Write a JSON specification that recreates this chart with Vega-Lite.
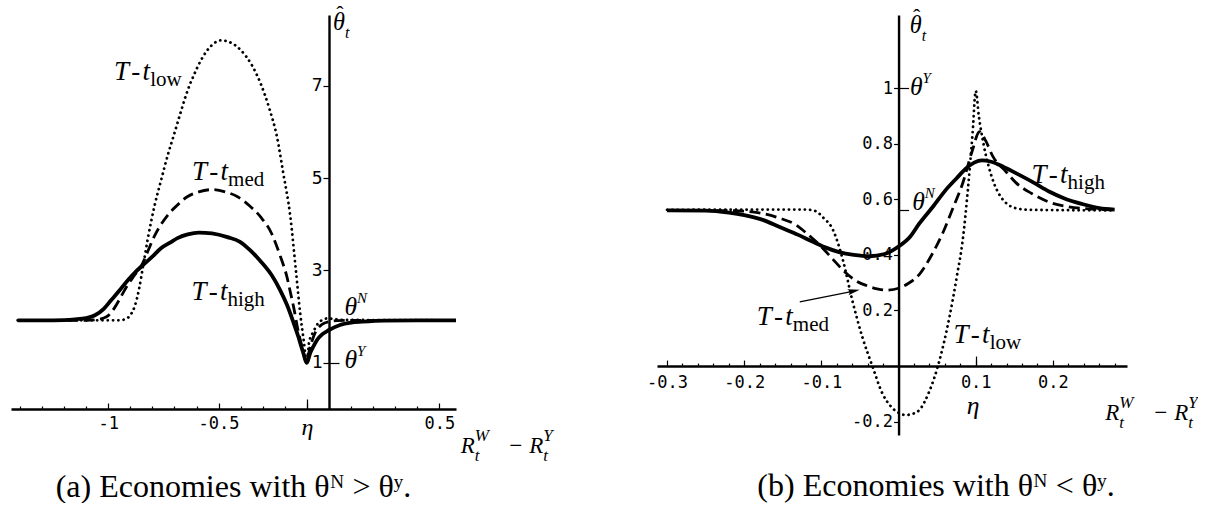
{
  "$schema": "https://vega.github.io/schema/vega-lite/v6.json",
  "padding": {"left": 10, "top": 3, "right": 0, "bottom": 0},
  "background": "white",
  "spacing": 201,
  "bounds": "flush",
  "config": {"view": {"stroke": null}, "axis": {"grid": false, "domainColor": "black", "domainWidth": 2.4, "tickColor": "black", "tickWidth": 1.2, "labelColor": "black", "labelOverlap": false, "labelFlush": false, "labelBound": false}},
  "datasets": {
    "leftCurves": [
      {"s":"high","x":-1.41,"y":1.92},{"s":"high","x":-1.3,"y":1.92},{"s":"high","x":-1.2,"y":1.925},{"s":"high","x":-1.15,"y":1.94},{"s":"high","x":-1.1,"y":1.97},{"s":"high","x":-1.06,"y":2.03},{"s":"high","x":-1.02,"y":2.17},{"s":"high","x":-0.986,"y":2.36},{"s":"high","x":-0.95,"y":2.56},{"s":"high","x":-0.911,"y":2.79},{"s":"high","x":-0.88,"y":2.95},{"s":"high","x":-0.851,"y":3.08},{"s":"high","x":-0.8,"y":3.3},{"s":"high","x":-0.761,"y":3.48},{"s":"high","x":-0.72,"y":3.6},{"s":"high","x":-0.686,"y":3.7},{"s":"high","x":-0.64,"y":3.78},{"s":"high","x":-0.59,"y":3.82},{"s":"high","x":-0.53,"y":3.8},{"s":"high","x":-0.46,"y":3.72},{"s":"high","x":-0.403,"y":3.62},{"s":"high","x":-0.36,"y":3.45},{"s":"high","x":-0.31,"y":3.2},{"s":"high","x":-0.26,"y":2.9},{"s":"high","x":-0.222,"y":2.58},{"s":"high","x":-0.19,"y":2.25},{"s":"high","x":-0.16,"y":1.86},{"s":"high","x":-0.14,"y":1.58},{"s":"high","x":-0.12,"y":1.27},{"s":"high","x":-0.1,"y":1.0},{"s":"high","x":-0.086,"y":1.2},{"s":"high","x":-0.07,"y":1.36},{"s":"high","x":-0.055,"y":1.49},{"s":"high","x":-0.03,"y":1.62},{"s":"high","x":0,"y":1.71},{"s":"high","x":0.05,"y":1.82},{"s":"high","x":0.1,"y":1.87},{"s":"high","x":0.15,"y":1.89},{"s":"high","x":0.25,"y":1.915},{"s":"high","x":0.4,"y":1.92},{"s":"high","x":0.575,"y":1.92},
      {"s":"med","x":-1.41,"y":1.92},{"s":"med","x":-1.1,"y":1.92},{"s":"med","x":-1.05,"y":1.935},{"s":"med","x":-1.02,"y":1.97},{"s":"med","x":-1.0,"y":2.02},{"s":"med","x":-0.97,"y":2.2},{"s":"med","x":-0.94,"y":2.45},{"s":"med","x":-0.91,"y":2.7},{"s":"med","x":-0.88,"y":2.9},{"s":"med","x":-0.85,"y":3.1},{"s":"med","x":-0.82,"y":3.42},{"s":"med","x":-0.79,"y":3.75},{"s":"med","x":-0.76,"y":4.0},{"s":"med","x":-0.73,"y":4.2},{"s":"med","x":-0.69,"y":4.4},{"s":"med","x":-0.64,"y":4.6},{"s":"med","x":-0.59,"y":4.7},{"s":"med","x":-0.53,"y":4.75},{"s":"med","x":-0.47,"y":4.7},{"s":"med","x":-0.416,"y":4.6},{"s":"med","x":-0.36,"y":4.4},{"s":"med","x":-0.31,"y":4.16},{"s":"med","x":-0.26,"y":3.8},{"s":"med","x":-0.22,"y":3.3},{"s":"med","x":-0.19,"y":2.85},{"s":"med","x":-0.176,"y":2.55},{"s":"med","x":-0.16,"y":2.2},{"s":"med","x":-0.14,"y":1.7},{"s":"med","x":-0.12,"y":1.3},{"s":"med","x":-0.1,"y":1.0},{"s":"med","x":-0.09,"y":1.25},{"s":"med","x":-0.075,"y":1.5},{"s":"med","x":-0.06,"y":1.68},{"s":"med","x":-0.04,"y":1.8},{"s":"med","x":-0.02,"y":1.86},{"s":"med","x":0,"y":1.89},{"s":"med","x":0.04,"y":1.915},{"s":"med","x":0.1,"y":1.92},{"s":"med","x":0.575,"y":1.92},
      {"s":"low","x":-1.41,"y":1.92},{"s":"low","x":-0.95,"y":1.92},{"s":"low","x":-0.92,"y":1.95},{"s":"low","x":-0.9,"y":2.03},{"s":"low","x":-0.88,"y":2.22},{"s":"low","x":-0.86,"y":2.6},{"s":"low","x":-0.84,"y":3.15},{"s":"low","x":-0.82,"y":3.7},{"s":"low","x":-0.79,"y":4.4},{"s":"low","x":-0.76,"y":4.96},{"s":"low","x":-0.73,"y":5.5},{"s":"low","x":-0.7,"y":5.97},{"s":"low","x":-0.67,"y":6.45},{"s":"low","x":-0.64,"y":6.9},{"s":"low","x":-0.61,"y":7.25},{"s":"low","x":-0.58,"y":7.55},{"s":"low","x":-0.53,"y":7.88},{"s":"low","x":-0.49,"y":7.98},{"s":"low","x":-0.44,"y":7.92},{"s":"low","x":-0.4,"y":7.77},{"s":"low","x":-0.35,"y":7.45},{"s":"low","x":-0.31,"y":7.05},{"s":"low","x":-0.27,"y":6.5},{"s":"low","x":-0.236,"y":5.9},{"s":"low","x":-0.207,"y":5.1},{"s":"low","x":-0.176,"y":4.2},{"s":"low","x":-0.15,"y":3.0},{"s":"low","x":-0.13,"y":2.05},{"s":"low","x":-0.115,"y":1.5},{"s":"low","x":-0.1,"y":1.0},{"s":"low","x":-0.09,"y":1.45},{"s":"low","x":-0.07,"y":1.68},{"s":"low","x":-0.05,"y":1.85},{"s":"low","x":-0.03,"y":1.93},{"s":"low","x":-0.01,"y":1.96},{"s":"low","x":0.02,"y":1.95},{"s":"low","x":0.06,"y":1.93},{"s":"low","x":0.575,"y":1.92}
    ],
    "rightCurves": [
      {"s":"high","x":-0.3,"y":0.56},{"s":"high","x":-0.25,"y":0.559},{"s":"high","x":-0.22,"y":0.552},{"s":"high","x":-0.2,"y":0.543},{"s":"high","x":-0.175,"y":0.525},{"s":"high","x":-0.154,"y":0.5},{"s":"high","x":-0.13,"y":0.472},{"s":"high","x":-0.111,"y":0.447},{"s":"high","x":-0.095,"y":0.427},{"s":"high","x":-0.077,"y":0.41},{"s":"high","x":-0.058,"y":0.4},{"s":"high","x":-0.038,"y":0.395},{"s":"high","x":-0.018,"y":0.403},{"s":"high","x":0,"y":0.43},{"s":"high","x":0.015,"y":0.465},{"s":"high","x":0.027,"y":0.513},{"s":"high","x":0.045,"y":0.575},{"s":"high","x":0.061,"y":0.633},{"s":"high","x":0.075,"y":0.675},{"s":"high","x":0.087,"y":0.71},{"s":"high","x":0.098,"y":0.732},{"s":"high","x":0.108,"y":0.74},{"s":"high","x":0.12,"y":0.735},{"s":"high","x":0.135,"y":0.718},{"s":"high","x":0.152,"y":0.694},{"s":"high","x":0.175,"y":0.66},{"s":"high","x":0.195,"y":0.628},{"s":"high","x":0.215,"y":0.603},{"s":"high","x":0.238,"y":0.583},{"s":"high","x":0.26,"y":0.568},{"s":"high","x":0.28,"y":0.563},
      {"s":"med","x":-0.3,"y":0.56},{"s":"med","x":-0.22,"y":0.559},{"s":"med","x":-0.19,"y":0.555},{"s":"med","x":-0.176,"y":0.549},{"s":"med","x":-0.155,"y":0.533},{"s":"med","x":-0.133,"y":0.508},{"s":"med","x":-0.118,"y":0.475},{"s":"med","x":-0.102,"y":0.435},{"s":"med","x":-0.087,"y":0.39},{"s":"med","x":-0.072,"y":0.345},{"s":"med","x":-0.057,"y":0.31},{"s":"med","x":-0.042,"y":0.29},{"s":"med","x":-0.028,"y":0.278},{"s":"med","x":-0.016,"y":0.273},{"s":"med","x":0,"y":0.28},{"s":"med","x":0.013,"y":0.298},{"s":"med","x":0.027,"y":0.33},{"s":"med","x":0.042,"y":0.395},{"s":"med","x":0.057,"y":0.477},{"s":"med","x":0.07,"y":0.565},{"s":"med","x":0.083,"y":0.657},{"s":"med","x":0.095,"y":0.77},{"s":"med","x":0.105,"y":0.843},{"s":"med","x":0.113,"y":0.81},{"s":"med","x":0.122,"y":0.755},{"s":"med","x":0.139,"y":0.7},{"s":"med","x":0.152,"y":0.66},{"s":"med","x":0.173,"y":0.62},{"s":"med","x":0.195,"y":0.59},{"s":"med","x":0.22,"y":0.573},{"s":"med","x":0.25,"y":0.565},{"s":"med","x":0.28,"y":0.562},
      {"s":"low","x":-0.3,"y":0.562},{"s":"low","x":-0.12,"y":0.563},{"s":"low","x":-0.108,"y":0.558},{"s":"low","x":-0.098,"y":0.535},{"s":"low","x":-0.085,"y":0.49},{"s":"low","x":-0.072,"y":0.38},{"s":"low","x":-0.06,"y":0.237},{"s":"low","x":-0.047,"y":0.105},{"s":"low","x":-0.034,"y":0.0},{"s":"low","x":-0.021,"y":-0.098},{"s":"low","x":-0.01,"y":-0.145},{"s":"low","x":0.0,"y":-0.168},{"s":"low","x":0.009,"y":-0.176},{"s":"low","x":0.018,"y":-0.172},{"s":"low","x":0.027,"y":-0.158},{"s":"low","x":0.04,"y":-0.09},{"s":"low","x":0.051,"y":0.0},{"s":"low","x":0.066,"y":0.177},{"s":"low","x":0.076,"y":0.33},{"s":"low","x":0.083,"y":0.45},{"s":"low","x":0.09,"y":0.64},{"s":"low","x":0.096,"y":0.84},{"s":"low","x":0.1,"y":0.99},{"s":"low","x":0.104,"y":0.9},{"s":"low","x":0.11,"y":0.8},{"s":"low","x":0.117,"y":0.716},{"s":"low","x":0.124,"y":0.655},{"s":"low","x":0.13,"y":0.62},{"s":"low","x":0.14,"y":0.585},{"s":"low","x":0.152,"y":0.568},{"s":"low","x":0.17,"y":0.562},{"s":"low","x":0.28,"y":0.56}
    ],
    "leftLabels": [
      {"x":-0.81,"y":7.12,"main":"T\u200a-\u200at","sub":"low","sup":"","kind":"curve"},
      {"x":-0.457,"y":4.96,"main":"T\u200a-\u200at","sub":"med","sup":"","kind":"curve"},
      {"x":-0.46,"y":2.36,"main":"T\u200a-\u200at","sub":"high","sup":"","kind":"curve"},
      {"x":0.127,"y":2.03,"main":"θ","sub":"","sup":"N","kind":"theta"},
      {"x":0.127,"y":0.89,"main":"θ","sub":"","sup":"Y","kind":"theta"},
      {"x":0.072,"y":8.2,"main":"θ","sub":"t","sup":"","kind":"thetahat"},
      {"x":0.66,"y":-0.95,"main":"R","sub":"t","sup":"W","kind":"axis"},
      {"x":0.97,"y":-0.95,"main":"− R","sub":"t","sup":"Y","kind":"axis"}
    ],
    "rightLabels": [
      {"x":0.03,"y":1.198,"main":"θ","sub":"t","sup":"","kind":"thetahat"},
      {"x":0.031,"y":0.975,"main":"θ","sub":"","sup":"Y","kind":"theta"},
      {"x":0.034,"y":0.56,"main":"θ","sub":"","sup":"N","kind":"theta"},
      {"x":0.219,"y":0.658,"main":"T\u200a-\u200at","sub":"high","sup":"","kind":"curve"},
      {"x":-0.137,"y":0.147,"main":"T\u200a-\u200at","sub":"med","sup":"","kind":"curve"},
      {"x":0.118,"y":0.083,"main":"T\u200a-\u200at","sub":"low","sup":"","kind":"curve"},
      {"x":0.105,"y":-0.172,"main":"η","sub":"","sup":"","kind":"theta"},
      {"x":0.286,"y":-0.194,"main":"R","sub":"t","sup":"W","kind":"axis"},
      {"x":0.3755,"y":-0.194,"main":"− R","sub":"t","sup":"Y","kind":"axis"}
    ],
    "arrow": [
      {"x1":-0.128,"y1":0.231,"x2":-0.058,"y2":0.27}
    ]
  },
  "hconcat": [
    {
      "width": 445,
      "height": 394,
      "title": {"text": "(a) Economies with θᴺ > θʸ.", "orient": "bottom", "anchor": "middle", "frame": "group", "font": "Liberation Serif", "fontSize": 32, "fontWeight": "normal", "color": "black", "offset": 8},
      "resolve": {"scale": {"size": "independent"}, "axis": {"x": "independent", "y": "independent"}},
      "layer": [
        {
          "data": {"name": "leftCurves"},
          "transform": [{"filter": "datum.s == 'low'"}],
          "mark": {"type": "line", "interpolate": "monotone", "color": "black", "strokeWidth": 2.8, "strokeDash": [0.1, 5.2], "strokeCap": "round"},
          "encoding": {
            "x": {"field": "x", "type": "quantitative", "scale": {"domain": [-1.44, 0.575], "nice": false, "zero": false},
              "axis": {"orient": "bottom", "offset": 0, "title": null,
                "values": [-1, -0.5, -0.1, 0.5],
                "tickSize": -6,
                "labelExpr": "datum.value == -1 ? '-1' : datum.value == -0.5 ? '-0.5' : datum.value == 0.5 ? '0.5' : 'η'",
                "labelFont": {"condition": {"test": "datum.value == -0.1", "value": "Liberation Serif"}, "value": "DejaVu Sans Mono"},
                "labelFontStyle": {"condition": {"test": "datum.value == -0.1", "value": "italic"}, "value": "normal"},
                "labelFontSize": {"condition": {"test": "datum.value == -0.1", "value": 24}, "value": 17},
                "labelPadding": 12
              }},
            "y": {"field": "y", "type": "quantitative", "scale": {"domain": [0, 8.53], "nice": false, "zero": false},
              "axis": {"orient": "left", "offset": -318, "title": null, "values": [1, 3, 5, 7],
                "tickSize": 6, "labelPadding": 1,
                "labelFont": "DejaVu Sans Mono", "labelFontSize": 18}}
          }
        },
        {
          "data": {"name": "leftCurves"},
          "transform": [{"filter": "datum.s == 'med'"}],
          "mark": {"type": "line", "interpolate": "monotone", "color": "black", "strokeWidth": 2.8, "strokeDash": [11, 5.5]},
          "encoding": {
            "x": {"field": "x", "type": "quantitative", "scale": {"domain": [-1.44, 0.575], "nice": false, "zero": false},
              "axis": {"orient": "bottom", "offset": 0, "title": null, "domain": false, "labels": false, "tickSize": -3,
                "values": [-1.4,-1.3,-1.2,-1.1,-0.9,-0.8,-0.7,-0.6,-0.4,-0.3,-0.2,0.1,0.2,0.3,0.4]}},
            "y": {"field": "y", "type": "quantitative", "scale": {"domain": [0, 8.53], "nice": false, "zero": false},
              "axis": {"orient": "left", "offset": -318, "title": null, "domain": false, "labels": false, "tickSize": -10, "values": [1]}}
          }
        },
        {
          "data": {"name": "leftCurves"},
          "transform": [{"filter": "datum.s == 'high'"}],
          "mark": {"type": "line", "interpolate": "monotone", "color": "black", "strokeWidth": 3.8},
          "encoding": {
            "x": {"field": "x", "type": "quantitative", "scale": {"domain": [-1.44, 0.575], "nice": false, "zero": false},
              "axis": {"orient": "bottom", "offset": 0, "title": null, "domain": false, "labels": false, "tickSize": -10, "values": [-0.1]}},
            "y": {"field": "y", "type": "quantitative", "scale": {"domain": [0, 8.53], "nice": false, "zero": false}, "axis": null}
          }
        },
        {
          "data": {"name": "leftLabels"},
          "mark": {"type": "text", "align": "right", "baseline": "alphabetic", "font": "Liberation Serif", "fontStyle": "italic", "color": "black"},
          "encoding": {
            "x": {"field": "x", "type": "quantitative", "scale": {"domain": [-1.44, 0.575], "nice": false, "zero": false}, "axis": null},
            "y": {"field": "y", "type": "quantitative", "scale": {"domain": [0, 8.53], "nice": false, "zero": false}, "axis": null},
            "text": {"field": "main"},
            "size": {"field": "kind", "type": "ordinal", "scale": {"domain": ["curve", "theta", "thetahat", "axis"], "range": [27, 23, 24, 27]}, "legend": null}
          }
        },
        {
          "data": {"name": "leftLabels"},
          "transform": [{"filter": "datum.kind == 'thetahat'"}],
          "mark": {"type": "text", "align": "center", "baseline": "alphabetic", "font": "Liberation Serif", "fontSize": 22, "dx": -5, "dy": -9, "color": "black"},
          "encoding": {
            "x": {"field": "x", "type": "quantitative", "scale": {"domain": [-1.44, 0.575], "nice": false, "zero": false}, "axis": null},
            "y": {"field": "y", "type": "quantitative", "scale": {"domain": [0, 8.53], "nice": false, "zero": false}, "axis": null},
            "text": {"value": "ˆ"}
          }
        },
        {
          "data": {"name": "leftLabels"},
          "transform": [{"filter": "datum.kind == 'curve'"}],
          "mark": {"type": "text", "align": "left", "baseline": "alphabetic", "font": "Liberation Serif", "fontSize": 21, "dy": 6, "color": "black"},
          "encoding": {
            "x": {"field": "x", "type": "quantitative", "scale": {"domain": [-1.44, 0.575], "nice": false, "zero": false}, "axis": null},
            "y": {"field": "y", "type": "quantitative", "scale": {"domain": [0, 8.53], "nice": false, "zero": false}, "axis": null},
            "text": {"field": "sub"}
          }
        },
        {
          "data": {"name": "leftLabels"},
          "transform": [{"filter": "datum.kind != 'curve' && datum.sub != ''"}],
          "mark": {"type": "text", "align": "left", "baseline": "alphabetic", "font": "Liberation Serif", "fontStyle": "italic", "dy": 8, "color": "black"},
          "encoding": {
            "x": {"field": "x", "type": "quantitative", "scale": {"domain": [-1.44, 0.575], "nice": false, "zero": false}, "axis": null},
            "y": {"field": "y", "type": "quantitative", "scale": {"domain": [0, 8.53], "nice": false, "zero": false}, "axis": null},
            "text": {"field": "sub"},
            "size": {"field": "kind", "type": "ordinal", "scale": {"domain": ["thetahat", "axis"], "range": [16, 17]}, "legend": null}
          }
        },
        {
          "data": {"name": "leftLabels"},
          "transform": [{"filter": "datum.sup != ''"}],
          "mark": {"type": "text", "align": "left", "baseline": "alphabetic", "font": "Liberation Serif", "fontStyle": "italic", "dy": -12, "color": "black"},
          "encoding": {
            "x": {"field": "x", "type": "quantitative", "scale": {"domain": [-1.44, 0.575], "nice": false, "zero": false}, "axis": null},
            "y": {"field": "y", "type": "quantitative", "scale": {"domain": [0, 8.53], "nice": false, "zero": false}, "axis": null},
            "text": {"field": "sup"},
            "size": {"field": "kind", "type": "ordinal", "scale": {"domain": ["theta", "axis"], "range": [15, 17]}, "legend": null}
          }
        }
      ]
    },
    {
      "width": 470,
      "height": 420,
      "title": {"text": "(b) Economies with θᴺ < θʸ.", "orient": "bottom", "anchor": "middle", "frame": "group", "font": "Liberation Serif", "fontSize": 32, "fontWeight": "normal", "color": "black", "offset": 36, "dx": 44},
      "resolve": {"scale": {"size": "independent"}, "axis": {"x": "independent", "y": "independent"}},
      "layer": [
        {
          "data": {"name": "rightCurves"},
          "transform": [{"filter": "datum.s == 'low'"}],
          "mark": {"type": "line", "interpolate": "monotone", "color": "black", "strokeWidth": 2.8, "strokeDash": [0.1, 5.2], "strokeCap": "round"},
          "encoding": {
            "x": {"field": "x", "type": "quantitative", "scale": {"domain": [-0.313, 0.296], "nice": false, "zero": false},
              "axis": {"orient": "bottom", "offset": -68.93, "title": null,
                "values": [-0.3, -0.2, -0.1, 0.1, 0.2],
                "tickSize": -6,
                "labelExpr": "toString(datum.value)",
                "labelFont": "DejaVu Sans Mono", "labelFontSize": 17,
                "labelPadding": 14
              }},
            "y": {"field": "y", "type": "quantitative", "scale": {"domain": [-0.248, 1.263], "nice": false, "zero": false},
              "axis": {"orient": "left", "offset": -241.56, "title": null, "values": [-0.2, 0.2, 0.4, 0.6, 0.8, 1],
                "tickSize": 5, "labelPadding": 1,
                "labelExpr": "toString(datum.value)",
                "labelFont": "DejaVu Sans Mono", "labelFontSize": 17}}
          }
        },
        {
          "data": {"name": "rightCurves"},
          "transform": [{"filter": "datum.s == 'med'"}],
          "mark": {"type": "line", "interpolate": "monotone", "color": "black", "strokeWidth": 2.8, "strokeDash": [11, 5.5]},
          "encoding": {
            "x": {"field": "x", "type": "quantitative", "scale": {"domain": [-0.313, 0.296], "nice": false, "zero": false},
              "axis": {"orient": "bottom", "offset": -68.93, "title": null, "domain": false, "labels": false, "tickSize": -3,
                "values": [-0.28,-0.26,-0.24,-0.22,-0.18,-0.16,-0.14,-0.12,-0.08,-0.06,-0.04,-0.02,0.02,0.04,0.06,0.08,0.12,0.14,0.16,0.18,0.22,0.24,0.26,0.28]}},
            "y": {"field": "y", "type": "quantitative", "scale": {"domain": [-0.248, 1.263], "nice": false, "zero": false},
              "axis": {"orient": "left", "offset": -241.56, "title": null, "domain": false, "labels": false, "tickSize": -10, "values": [0.56, 1]}}
          }
        },
        {
          "data": {"name": "rightCurves"},
          "transform": [{"filter": "datum.s == 'high'"}],
          "mark": {"type": "line", "interpolate": "monotone", "color": "black", "strokeWidth": 3.8},
          "encoding": {
            "x": {"field": "x", "type": "quantitative", "scale": {"domain": [-0.313, 0.296], "nice": false, "zero": false},
              "axis": {"orient": "bottom", "offset": -68.93, "title": null, "domain": false, "labels": false, "tickSize": -10, "values": [0.1]}},
            "y": {"field": "y", "type": "quantitative", "scale": {"domain": [-0.248, 1.263], "nice": false, "zero": false}, "axis": null}
          }
        },
        {
          "data": {"name": "arrow"},
          "mark": {"type": "rule", "color": "black", "strokeWidth": 1.3},
          "encoding": {
            "x": {"field": "x1", "type": "quantitative", "scale": {"domain": [-0.313, 0.296], "nice": false, "zero": false}, "axis": null},
            "y": {"field": "y1", "type": "quantitative", "scale": {"domain": [-0.248, 1.263], "nice": false, "zero": false}, "axis": null},
            "x2": {"field": "x2"},
            "y2": {"field": "y2"}
          }
        },
        {
          "data": {"name": "arrow"},
          "mark": {"type": "point", "shape": "M1,0L-1,-0.5L-0.6,0L-1,0.5Z", "filled": true, "color": "black", "opacity": 1, "size": 144, "angle": -11.3},
          "encoding": {
            "x": {"field": "x2", "type": "quantitative", "scale": {"domain": [-0.313, 0.296], "nice": false, "zero": false}, "axis": null},
            "y": {"field": "y2", "type": "quantitative", "scale": {"domain": [-0.248, 1.263], "nice": false, "zero": false}, "axis": null}
          }
        },
        {
          "data": {"name": "rightLabels"},
          "mark": {"type": "text", "align": "right", "baseline": "alphabetic", "font": "Liberation Serif", "fontStyle": "italic", "color": "black"},
          "encoding": {
            "x": {"field": "x", "type": "quantitative", "scale": {"domain": [-0.313, 0.296], "nice": false, "zero": false}, "axis": null},
            "y": {"field": "y", "type": "quantitative", "scale": {"domain": [-0.248, 1.263], "nice": false, "zero": false}, "axis": null},
            "text": {"field": "main"},
            "size": {"field": "kind", "type": "ordinal", "scale": {"domain": ["curve", "theta", "thetahat", "axis"], "range": [27, 23, 24, 27]}, "legend": null}
          }
        },
        {
          "data": {"name": "rightLabels"},
          "transform": [{"filter": "datum.kind == 'thetahat'"}],
          "mark": {"type": "text", "align": "center", "baseline": "alphabetic", "font": "Liberation Serif", "fontSize": 22, "dx": -5, "dy": -9, "color": "black"},
          "encoding": {
            "x": {"field": "x", "type": "quantitative", "scale": {"domain": [-0.313, 0.296], "nice": false, "zero": false}, "axis": null},
            "y": {"field": "y", "type": "quantitative", "scale": {"domain": [-0.248, 1.263], "nice": false, "zero": false}, "axis": null},
            "text": {"value": "ˆ"}
          }
        },
        {
          "data": {"name": "rightLabels"},
          "transform": [{"filter": "datum.kind == 'curve'"}],
          "mark": {"type": "text", "align": "left", "baseline": "alphabetic", "font": "Liberation Serif", "fontSize": 21, "dy": 6, "color": "black"},
          "encoding": {
            "x": {"field": "x", "type": "quantitative", "scale": {"domain": [-0.313, 0.296], "nice": false, "zero": false}, "axis": null},
            "y": {"field": "y", "type": "quantitative", "scale": {"domain": [-0.248, 1.263], "nice": false, "zero": false}, "axis": null},
            "text": {"field": "sub"}
          }
        },
        {
          "data": {"name": "rightLabels"},
          "transform": [{"filter": "datum.kind != 'curve' && datum.sub != ''"}],
          "mark": {"type": "text", "align": "left", "baseline": "alphabetic", "font": "Liberation Serif", "fontStyle": "italic", "dy": 8, "color": "black"},
          "encoding": {
            "x": {"field": "x", "type": "quantitative", "scale": {"domain": [-0.313, 0.296], "nice": false, "zero": false}, "axis": null},
            "y": {"field": "y", "type": "quantitative", "scale": {"domain": [-0.248, 1.263], "nice": false, "zero": false}, "axis": null},
            "text": {"field": "sub"},
            "size": {"field": "kind", "type": "ordinal", "scale": {"domain": ["thetahat", "axis"], "range": [16, 17]}, "legend": null}
          }
        },
        {
          "data": {"name": "rightLabels"},
          "transform": [{"filter": "datum.sup != ''"}],
          "mark": {"type": "text", "align": "left", "baseline": "alphabetic", "font": "Liberation Serif", "fontStyle": "italic", "dy": -12, "color": "black"},
          "encoding": {
            "x": {"field": "x", "type": "quantitative", "scale": {"domain": [-0.313, 0.296], "nice": false, "zero": false}, "axis": null},
            "y": {"field": "y", "type": "quantitative", "scale": {"domain": [-0.248, 1.263], "nice": false, "zero": false}, "axis": null},
            "text": {"field": "sup"},
            "size": {"field": "kind", "type": "ordinal", "scale": {"domain": ["theta", "axis"], "range": [15, 17]}, "legend": null}
          }
        }
      ]
    }
  ]
}
